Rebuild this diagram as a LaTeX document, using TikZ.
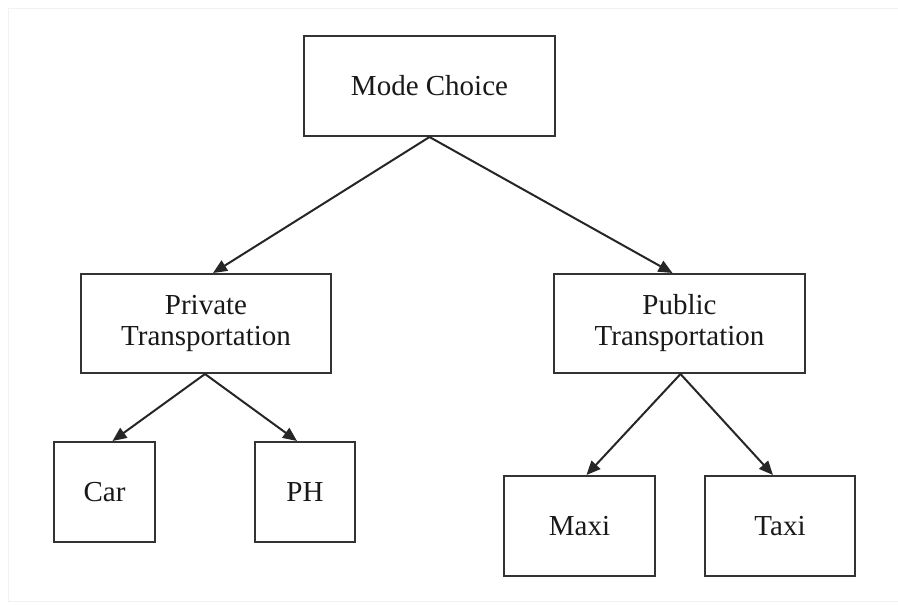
\documentclass[tikz,border=0pt]{standalone}
\usepackage{fontspec}
\setmainfont{Liberation Serif}
\usetikzlibrary{arrows.meta}
\begin{document}
\begin{tikzpicture}[x=1pt,y=-1pt,
  box/.style={draw=black!80,line width=2pt,fill=white,inner sep=0pt,align=center,
    font=\fontsize{29}{31}\selectfont,text=black!90},
  link/.style={draw=black!85,line width=2pt,-{Triangle[length=14pt,width=12pt]}}]
\useasboundingbox (0,0) rectangle (898,605);
\draw[black!5,line width=1pt] (8,8) -- (8,601) -- (898,601);
\draw[black!5,line width=1pt] (8,8) -- (898,8);
\node[box,minimum width=251pt,minimum height=100pt] (mode) at (429.5,86) {Mode Choice};
\node[box,minimum width=250pt,minimum height=99pt] (priv) at (206,323.5) {Private\\Transportation};
\node[box,minimum width=251pt,minimum height=99pt] (pub) at (679.5,323.5) {Public\\Transportation};
\node[box,minimum width=101pt,minimum height=100pt] (car) at (104.5,492) {Car};
\node[box,minimum width=100pt,minimum height=100pt] (ph) at (305,492) {PH};
\node[box,minimum width=151pt,minimum height=100pt] (maxi) at (579.5,526) {Maxi};
\node[box,minimum width=150pt,minimum height=100pt] (taxi) at (780,526) {Taxi};
\draw[link] (mode.south) -- ([xshift=7pt]priv.north);
\draw[link] (mode.south) -- ([xshift=-7pt]pub.north);
\draw[link] ([xshift=-1pt]priv.south) -- ([xshift=8pt]car.north);
\draw[link] ([xshift=-1pt]priv.south) -- ([xshift=-8pt]ph.north);
\draw[link] ([xshift=1pt]pub.south) -- ([xshift=7pt]maxi.north);
\draw[link] ([xshift=1pt]pub.south) -- ([xshift=-7pt]taxi.north);
\end{tikzpicture}
\end{document}
